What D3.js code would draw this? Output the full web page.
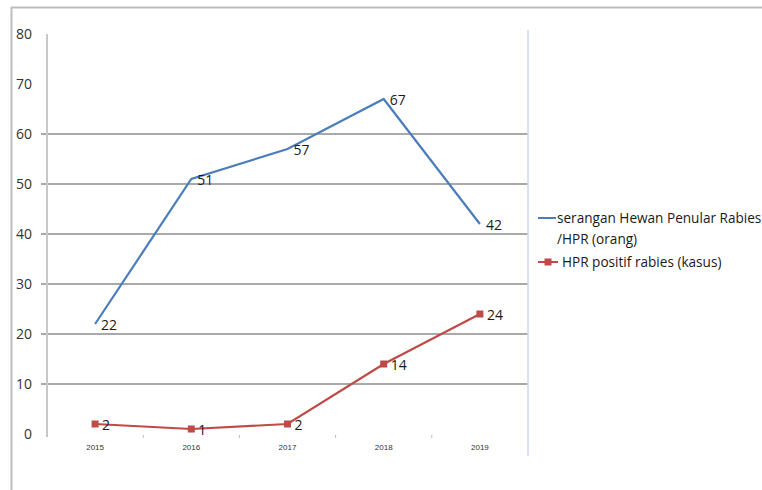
<!DOCTYPE html>
<html>
<head>
<meta charset="utf-8">
<script src="https://cdn.jsdelivr.net/npm/d3@7"></script>
<style>
  body { margin: 0; background: #fff; }
  svg { display: block; font-family: "Open Sans", "DejaVu Sans", sans-serif; }
</style>
</head>
<body>
<div id="chart"></div>
<script>
// data
const years = ["2015", "2016", "2017", "2018", "2019"];
const serangan = [22, 51, 57, 67, 42];
const positif = [2, 1, 2, 14, 24];
const yTicks = [0, 10, 20, 30, 40, 50, 60, 70, 80];
const gridTicks = [10, 20, 30, 40, 50, 60];
const seriesNames = ["serangan Hewan Penular Rabies", "/HPR (orang)", "HPR positif rabies (kasus)"];

const width = 762, height = 490;
const margin = {left: 47, right: 234, top: 34, bottom: 56};

const svg = d3.select("#chart").append("svg")
  .attr("width", width)
  .attr("height", height);

// outer frame (only top and left edges show)
svg.append("line").attr("x1", 11).attr("x2", width).attr("y1", 7.5).attr("y2", 7.5)
  .attr("stroke", "#bdbdbd").attr("stroke-width", 2);
svg.append("line").attr("x1", 11.5).attr("x2", 11.5).attr("y1", 7).attr("y2", height)
  .attr("stroke", "#bdbdbd").attr("stroke-width", 2);

const x = d3.scaleBand().domain(years).range([margin.left, width - margin.right]);
const y = d3.scaleLinear().domain([0, 80]).range([height - margin.bottom, margin.top]);

// gridlines
svg.append("g")
  .selectAll("line")
  .data(gridTicks)
  .enter().append("line")
  .attr("x1", margin.left - 6)
  .attr("x2", width - margin.right)
  .attr("y1", d => y(d))
  .attr("y2", d => y(d))
  .attr("stroke", "#8c8c8c")
  .attr("stroke-width", 1.5);

// right edge of plot area
svg.append("line")
  .attr("x1", width - margin.right).attr("x2", width - margin.right)
  .attr("y1", margin.top - 4).attr("y2", height - margin.bottom + 22)
  .attr("stroke", "#cbd9ef").attr("stroke-width", 1.5);

// y axis
const yAxis = svg.append("g")
  .attr("transform", "translate(" + margin.left + ",0)")
  .call(d3.axisLeft(y).tickValues(yTicks).tickSize(0).tickPadding(15));
yAxis.select(".domain")
  .attr("stroke", "#c8c8c8").attr("stroke-width", 2)
  .attr("d", "M0," + (y(80)) + "V" + (y(0) + 3));
yAxis.selectAll("text")
  .attr("font-size", 14).attr("fill", "#333")
  .attr("font-family", "'Open Sans', sans-serif");

// x axis
const xAxis = svg.append("g")
  .attr("transform", "translate(0," + y(0) + ")")
  .call(d3.axisBottom(x).tickSize(0).tickPadding(10));
xAxis.select(".domain").remove();
xAxis.selectAll("text")
  .attr("font-size", 8).attr("fill", "#333");

// small ticks between categories
svg.append("g")
  .selectAll("line")
  .data(years.slice(1))
  .enter().append("line")
  .attr("x1", d => x(d))
  .attr("x2", d => x(d))
  .attr("y1", y(0) + 1)
  .attr("y2", y(0) + 4)
  .attr("stroke", "#bbb");

const line = d3.line()
  .x((d, i) => x(years[i]) + x.bandwidth() / 2)
  .y(d => y(d));

const blue = "#4a7ebb", red = "#be4b48";

// blue series
svg.append("path")
  .datum(serangan)
  .attr("d", line)
  .attr("fill", "none")
  .attr("stroke", blue)
  .attr("stroke-width", 2.2);

svg.append("g")
  .selectAll("text")
  .data(serangan)
  .enter().append("text")
  .attr("x", (d, i) => x(years[i]) + x.bandwidth() / 2 + 6)
  .attr("y", d => y(d))
  .attr("dy", "0.4em")
  .attr("font-size", 14)
  .attr("fill", "#1a1a1a")
  .text(d => d);

// red series
svg.append("path")
  .datum(positif)
  .attr("d", line)
  .attr("fill", "none")
  .attr("stroke", red)
  .attr("stroke-width", 2.2);

svg.append("g")
  .selectAll("rect")
  .data(positif)
  .enter().append("rect")
  .attr("x", (d, i) => x(years[i]) + x.bandwidth() / 2 - 3.5)
  .attr("y", d => y(d) - 3.5)
  .attr("width", 7)
  .attr("height", 7)
  .attr("fill", red);

svg.append("g")
  .selectAll("text")
  .data(positif)
  .enter().append("text")
  .attr("x", (d, i) => x(years[i]) + x.bandwidth() / 2 + 7)
  .attr("y", d => y(d))
  .attr("dy", "0.4em")
  .attr("font-size", 14)
  .attr("fill", "#1a1a1a")
  .text(d => d);

// legend
const lfs = 13.6;
const lg = svg.append("g").attr("transform", "translate(538,0)");
lg.append("line").attr("x1", 0).attr("x2", 18).attr("y1", 218).attr("y2", 218)
  .attr("stroke", blue).attr("stroke-width", 2);
lg.append("text").attr("x", 19).attr("y", 218).attr("dy", "0.35em")
  .attr("font-size", lfs).attr("fill", "#1a1a1a").text(seriesNames[0]);
lg.append("text").attr("x", 19).attr("y", 239).attr("dy", "0.35em")
  .attr("font-size", lfs).attr("fill", "#1a1a1a").text(seriesNames[1]);
lg.append("line").attr("x1", 0).attr("x2", 20).attr("y1", 262).attr("y2", 262)
  .attr("stroke", red).attr("stroke-width", 2);
lg.append("rect").attr("x", 6.5).attr("y", 258.5).attr("width", 7).attr("height", 7)
  .attr("fill", red);
lg.append("text").attr("x", 24).attr("y", 262).attr("dy", "0.35em")
  .attr("font-size", lfs).attr("fill", "#1a1a1a").text(seriesNames[2]);
</script>
</body>
</html>
